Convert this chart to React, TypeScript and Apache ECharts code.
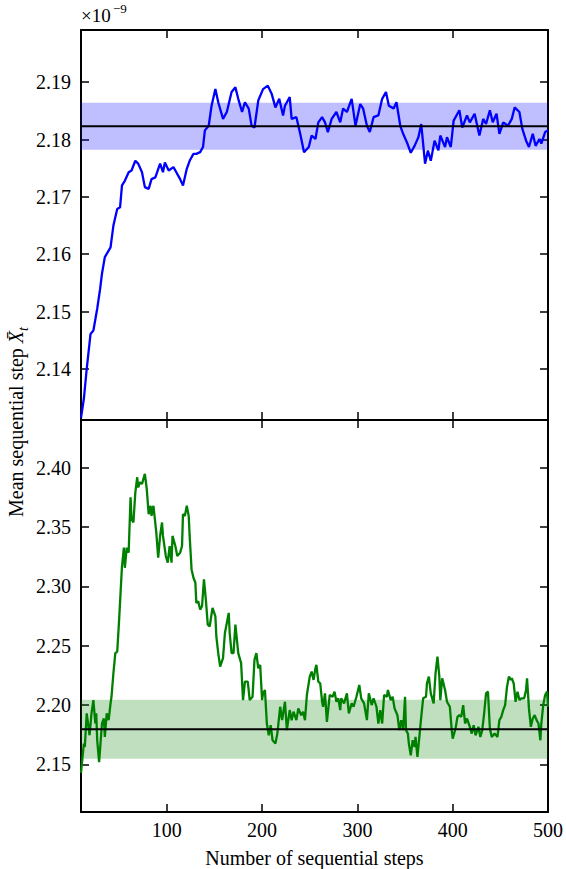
import React, { useEffect, useRef } from "react";
import * as echarts from "echarts";

// ---------- data (values in units of 1e-9) ----------
const X_MIN = 10;
const X_MAX = 500;
const X_TICK = 100;

const topSteps = [
  10, 13, 16, 20, 23, 27, 30, 32, 35, 41, 44, 48, 51, 53, 56, 60, 63, 67, 70, 74,
  77, 81, 84, 88, 93, 96, 98, 102, 107, 110, 114, 117, 121, 124, 128, 131, 135, 138, 140, 144,
  147, 151, 154, 159, 163, 168, 172, 175, 179, 182, 186, 189, 192, 196, 201, 206, 210, 214, 218, 222,
  224, 229, 231, 236, 240, 244, 249, 252, 256, 259, 263, 266, 269, 273, 278, 282, 285, 289, 294, 298,
  303, 306, 310, 313, 317, 322, 326, 330, 333, 338, 341, 345, 348, 352, 356, 360, 364, 367, 371, 374,
  377, 381, 385, 387, 392, 394, 398, 401, 407, 410, 415, 418, 423, 428, 432, 435, 439, 442, 446, 449,
  453, 458, 462, 465, 470, 473, 477, 480, 484, 487, 491, 493, 497, 500,
];
const topValues = [
  2.1315, 2.1348, 2.14, 2.1461, 2.1467, 2.1505, 2.1539, 2.1566, 2.1595, 2.1612, 2.165, 2.1679, 2.1682, 2.172, 2.1728, 2.1743, 2.1746, 2.1763, 2.1758, 2.1743,
  2.1717, 2.1714, 2.1731, 2.1734, 2.1758, 2.1743, 2.176, 2.1746, 2.1752, 2.1743, 2.1731, 2.172, 2.1749, 2.1763, 2.1775, 2.1775, 2.1778, 2.1787, 2.1816, 2.1824,
  2.1859, 2.1888, 2.1865, 2.1836, 2.1848, 2.1883, 2.1891, 2.1871, 2.1848, 2.1865, 2.1854, 2.1824, 2.1821, 2.1868, 2.1888, 2.1894, 2.188, 2.1856, 2.1871, 2.1842,
  2.1859, 2.1874, 2.1836, 2.1839, 2.181, 2.1778, 2.1787, 2.1807, 2.1801, 2.183, 2.1839, 2.183, 2.1813, 2.1836, 2.1848, 2.183, 2.1854, 2.1848, 2.1871, 2.1824,
  2.1862, 2.1854, 2.1824, 2.1813, 2.1839, 2.1842, 2.1871, 2.1883, 2.1859, 2.1854, 2.1865, 2.1824, 2.181, 2.1795, 2.1777, 2.1789, 2.1804, 2.1827, 2.1758, 2.1781,
  2.1763, 2.1798, 2.1781, 2.1807, 2.1787, 2.1804, 2.1787, 2.1833, 2.1851, 2.1821, 2.1842, 2.183, 2.1845, 2.1807, 2.1836, 2.1827, 2.1851, 2.183, 2.1845, 2.181,
  2.183, 2.1824, 2.1836, 2.1856, 2.1848, 2.1819, 2.1798, 2.1787, 2.181, 2.1789, 2.1801, 2.1793, 2.1813, 2.1816,
];
const topMean = 2.1823;
const topBandLow = 2.1782;
const topBandHigh = 2.1864;
const topYMin = 2.1311;
const topYMax = 2.1991;
const topYTick = 0.01;

const bottomSteps = [
  10, 13, 14, 16, 19, 21, 23, 25, 26, 27, 29, 32, 34, 35, 37, 39, 41, 42, 44, 46,
  48, 50, 53, 55, 56, 58, 60, 62, 63, 65, 67, 69, 70, 72, 74, 77, 79, 81, 83, 84,
  86, 89, 91, 93, 95, 96, 99, 101, 103, 105, 106, 109, 111, 114, 116, 117, 119, 121, 123, 124,
  126, 128, 130, 131, 133, 135, 137, 139, 141, 143, 145, 148, 151, 152, 154, 156, 159, 161, 165, 166,
  168, 170, 172, 175, 178, 180, 182, 185, 187, 190, 192, 194, 196, 198, 200, 201, 203, 205, 207, 209,
  211, 214, 216, 219, 221, 224, 226, 229, 231, 233, 236, 238, 241, 243, 245, 247, 250, 252, 254, 256,
  257, 259, 261, 263, 264, 266, 268, 271, 274, 276, 278, 280, 282, 283, 286, 289, 291, 294, 296, 299,
  302, 304, 307, 310, 312, 315, 317, 320, 322, 324, 326, 328, 331, 332, 335, 337, 339, 342, 344, 346,
  348, 350, 351, 353, 354, 356, 358, 360, 361, 363, 365, 367, 369, 372, 373, 375, 377, 380, 382, 384,
  386, 387, 389, 392, 394, 397, 399, 400, 403, 405, 407, 409, 411, 413, 415, 418, 420, 422, 424, 427,
  429, 431, 433, 435, 437, 439, 441, 444, 447, 449, 451, 453, 455, 457, 459, 461, 462, 464, 466, 468,
  470, 472, 475, 477, 478, 480, 482, 484, 486, 488, 490, 492, 493, 495, 497, 499, 500,
];
const bottomValues = [
  2.143, 2.1676, 2.1647, 2.193, 2.1746, 2.193, 2.2042, 2.1845, 2.193, 2.1704, 2.152, 2.1845, 2.1887, 2.1732, 2.193, 2.1873, 2.2014, 2.207, 2.2268, 2.2437,
  2.245, 2.2719, 2.317, 2.3326, 2.3156, 2.3326, 2.3283, 2.3749, 2.3565, 2.3537, 2.3791, 2.3918, 2.3833, 2.3876, 2.3861, 2.3946, 2.3819, 2.3607, 2.3678, 2.3593,
  2.3678, 2.3453, 2.3241, 2.3424, 2.3537, 2.3424, 2.3255, 2.3199, 2.3339, 2.3199, 2.3424, 2.3339, 2.3255, 2.3283, 2.3339, 2.3607, 2.3593, 2.3678, 2.3593, 2.3424,
  2.3142, 2.3072, 2.303, 2.286, 2.2874, 2.2804, 2.2832, 2.3058, 2.2888, 2.2677, 2.2662, 2.2818, 2.2747, 2.2578, 2.2437, 2.2324, 2.2395, 2.2607, 2.2776, 2.2607,
  2.2437, 2.2437, 2.2677, 2.2437, 2.2353, 2.2042, 2.2197, 2.2197, 2.2042, 2.207, 2.2381, 2.2437, 2.231, 2.2338, 2.2042, 2.2099, 2.2127, 2.1845, 2.1746, 2.1831,
  2.1704, 2.1676, 2.176, 2.1986, 2.1873, 2.2028, 2.1789, 2.1958, 2.1873, 2.1944, 2.1873, 2.1972, 2.1915, 2.1944, 2.1873, 2.2085, 2.224, 2.2282, 2.2212, 2.231,
  2.2338, 2.2197, 2.2183, 2.2028, 2.1986, 2.2099, 2.1859, 2.2085, 2.207, 2.2113, 2.2028, 2.2057, 2.1958, 2.2057, 2.2014, 2.2099, 2.193, 2.2014, 2.1986, 2.207,
  2.2169, 2.2057, 2.2014, 2.1873, 2.2099, 2.2, 2.2057, 2.1986, 2.1845, 2.1958, 2.1845, 2.2085, 2.207, 2.2127, 2.2042, 2.207, 2.1972, 2.1915, 2.1789, 2.1873,
  2.1789, 2.207, 2.1789, 2.176, 2.1676, 2.1577, 2.1704, 2.1647, 2.1732, 2.1563, 2.1732, 2.1901, 2.2057, 2.207, 2.2183, 2.224, 2.2099, 2.2014, 2.2268, 2.2409,
  2.224, 2.2042, 2.2226, 2.2127, 2.2028, 2.1986, 2.1789, 2.1718, 2.1803, 2.1901, 2.1915, 2.1901, 2.2, 2.1845, 2.1887, 2.1817, 2.176, 2.1831, 2.1746, 2.1817,
  2.1732, 2.1789, 2.193, 2.2099, 2.2113, 2.1803, 2.1732, 2.176, 2.1732, 2.1873, 2.1901, 2.1958, 2.2, 2.2155, 2.224, 2.2212, 2.2226, 2.2183, 2.2028, 2.2113,
  2.2042, 2.2057, 2.2057, 2.2127, 2.2226, 2.1972, 2.1817, 2.1887, 2.1915, 2.1873, 2.1845, 2.1704, 2.1845, 2.2, 2.2085, 2.2113, 2.1986,
];
const bottomMean = 2.1797;
const bottomBandLow = 2.1548;
const bottomBandHigh = 2.2044;
const bottomYMin = 2.11;
const bottomYMax = 2.44;
const bottomYTick = 0.05;

const xTitle = "Number of sequential steps";
const yTitleText = "Mean sequential step ";
const yTitleSymbol = "X\u0304";
const yTitleSub = "t";
const scaleBase = "\u00d710";
const scaleExp = "\u22129";

const FONT = "Liberation Serif";

const pairs = (xs: number[], ys: number[]) => xs.map((x, i) => [x, ys[i]]);

export default function App() {
  const ref = useRef<HTMLDivElement>(null);

  useEffect(() => {
    if (!ref.current) return;
    const chart = echarts.init(ref.current, undefined, { renderer: "svg" });

    const axisLine = { show: true, onZero: false, lineStyle: { color: "#000", width: 2 } };
    const axisTick = { show: true, inside: true, length: 8, lineStyle: { color: "#000", width: 1.5 } };
    const noLabel = { show: false };
    const labelStyle = { color: "#000", fontSize: 20, fontFamily: FONT };

    const xBase = (gridIndex: number, position: string, showLabel: boolean) => ({
      type: "value",
      gridIndex,
      position,
      min: X_MIN,
      max: X_MAX,
      minInterval: X_TICK,
      maxInterval: X_TICK,
      axisLine,
      axisTick,
      splitLine: { show: false },
      axisLabel: showLabel
        ? { ...labelStyle, margin: 8, showMinLabel: false, showMaxLabel: true }
        : noLabel,
    });

    const yBase = (
      gridIndex: number,
      position: string,
      showLabel: boolean,
      min: number,
      max: number,
      tick: number
    ) => ({
      type: "value",
      gridIndex,
      position,
      min,
      max,
      minInterval: tick,
      maxInterval: tick,
      axisLine,
      axisTick,
      splitLine: { show: false },
      axisLabel: showLabel
        ? {
            ...labelStyle,
            margin: 10,
            showMinLabel: false,
            showMaxLabel: false,
            formatter: (v: number) => v.toFixed(2),
          }
        : noLabel,
    });

    const option = {
      animation: false,
      backgroundColor: "#fff",
      textStyle: { fontFamily: FONT },
      grid: [
        { left: 81, top: 30, width: 467, height: 390, outerBoundsMode: "none" },
        { left: 81, top: 420, width: 467, height: 392, outerBoundsMode: "none" },
      ],
      xAxis: [
        xBase(0, "bottom", false),
        xBase(0, "top", false),
        xBase(1, "bottom", true),
        xBase(1, "top", false),
      ],
      yAxis: [
        yBase(0, "left", true, topYMin, topYMax, topYTick),
        yBase(0, "right", false, topYMin, topYMax, topYTick),
        yBase(1, "left", true, bottomYMin, bottomYMax, bottomYTick),
        yBase(1, "right", false, bottomYMin, bottomYMax, bottomYTick),
      ],
      series: [
        {
          type: "line",
          xAxisIndex: 0,
          yAxisIndex: 0,
          data: pairs(topSteps, topValues),
          showSymbol: false,
          symbol: "none",
          lineStyle: { color: "#0000ff", width: 2.3 },
          z: 2,
          markArea: {
            silent: true,
            label: { show: false },
            itemStyle: { color: "rgba(0,0,255,0.25)" },
            data: [[{ xAxis: X_MIN, yAxis: topBandLow }, { xAxis: X_MAX, yAxis: topBandHigh }]],
          },
        },
        {
          type: "line",
          xAxisIndex: 0,
          yAxisIndex: 0,
          data: [
            [X_MIN, topMean],
            [X_MAX, topMean],
          ],
          symbol: "none",
          lineStyle: { color: "#000", width: 2 },
          z: 3,
        },
        {
          type: "line",
          xAxisIndex: 2,
          yAxisIndex: 2,
          data: pairs(bottomSteps, bottomValues),
          showSymbol: false,
          symbol: "none",
          lineStyle: { color: "#008000", width: 2.3 },
          z: 2,
          markArea: {
            silent: true,
            label: { show: false },
            itemStyle: { color: "rgba(0,128,0,0.25)" },
            data: [[{ xAxis: X_MIN, yAxis: bottomBandLow }, { xAxis: X_MAX, yAxis: bottomBandHigh }]],
          },
        },
        {
          type: "line",
          xAxisIndex: 2,
          yAxisIndex: 2,
          data: [
            [X_MIN, bottomMean],
            [X_MAX, bottomMean],
          ],
          symbol: "none",
          lineStyle: { color: "#000", width: 2 },
          z: 3,
        },
      ],
      graphic: [
        {
          type: "text",
          left: 81,
          top: 6,
          style: { text: scaleBase, fill: "#000", fontSize: 19, fontFamily: FONT },
        },
        {
          type: "text",
          left: 113,
          top: 2,
          style: { text: scaleExp, fill: "#000", fontSize: 13, fontFamily: FONT },
        },
        {
          type: "text",
          x: 314.5,
          y: 858,
          style: {
            text: xTitle,
            fill: "#000",
            fontSize: 20,
            fontFamily: FONT,
            align: "center",
            verticalAlign: "middle",
          },
        },
        {
          type: "text",
          x: 16,
          y: 422,
          rotation: Math.PI / 2,
          style: {
            text: `{a|${yTitleText}}{b|${yTitleSymbol}}{c|${yTitleSub}}`,
            fill: "#000",
            fontSize: 20,
            fontFamily: FONT,
            align: "center",
            verticalAlign: "middle",
            rich: {
              a: { fontSize: 20, fontFamily: FONT, lineHeight: 28, verticalAlign: "middle", fill: "#000" },
              b: {
                fontSize: 20,
                fontFamily: FONT,
                fontStyle: "italic",
                lineHeight: 28,
                verticalAlign: "middle",
                fill: "#000",
              },
              c: {
                fontSize: 14,
                fontFamily: FONT,
                fontStyle: "italic",
                lineHeight: 14,
                height: 14,
                verticalAlign: "bottom",
                fill: "#000",
              },
            },
          },
        },
      ],
    };

    chart.setOption(option as any);
    return () => chart.dispose();
  }, []);

  return (
    <div
      ref={ref}
      style={{ position: "absolute", left: 0, top: 0, width: 566, height: 869 }}
    />
  );
}
